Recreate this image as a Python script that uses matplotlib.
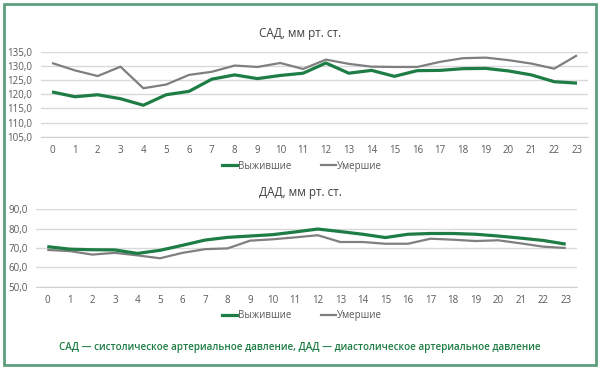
import matplotlib
matplotlib.use('Agg')
import matplotlib.pyplot as plt
from matplotlib.patches import Rectangle
from matplotlib.lines import Line2D

plt.rcParams['font.family'] = ['Open Sans', 'DejaVu Sans']

hours = list(range(24))

# САД (систолическое)
sad_alive = [120.8, 119.1, 119.8, 118.4, 116.1, 119.8, 121.0, 125.3, 126.8, 125.5,
             126.6, 127.4, 131.0, 127.4, 128.4, 126.3, 128.3, 128.4, 129.0, 129.1,
             128.2, 126.8, 124.4, 123.9]
sad_dead = [131.0, 128.4, 126.4, 129.7, 122.1, 123.4, 126.8, 127.9, 130.1, 129.6,
            131.0, 128.9, 132.2, 130.7, 129.7, 129.6, 129.6, 131.4, 132.7, 132.9,
            132.0, 130.8, 129.0, 133.7]

# ДАД (диастолическое)
dad_alive = [70.7, 69.4, 69.1, 69.0, 67.2, 68.8, 71.4, 74.1, 75.5, 76.2,
             76.9, 78.3, 79.8, 78.5, 77.1, 75.4, 77.1, 77.5, 77.5, 77.1,
             76.2, 75.1, 73.9, 72.0]
dad_dead = [69.0, 68.4, 66.6, 67.5, 66.2, 64.7, 67.5, 69.4, 69.8, 73.8,
            74.5, 75.5, 76.6, 73.1, 73.1, 72.2, 72.2, 74.8, 74.3, 73.6,
            74.0, 72.4, 70.7, 70.0]

GREEN = '#1e7d45'
GRAY = '#7f7f7f'
TXT = '#595959'

fig = plt.figure(figsize=(6, 3.69), dpi=100)

# рамка вокруг рисунка
fig.patches.append(Rectangle((0.006, 0.012), 0.988, 0.976, transform=fig.transFigure,
                             fill=False, edgecolor='#5e9e7c', linewidth=2))


def draw_panel(rect, alive, dead, ylim, step, title, title_y, legend_y):
    ax = fig.add_axes(rect)
    ax.plot(hours, dead, color=GRAY, linewidth=1.6, solid_capstyle='butt', zorder=3)
    ax.plot(hours, alive, color=GREEN, linewidth=2.3, solid_capstyle='butt', zorder=4)
    ax.set_xlim(-0.5, 23.5)
    ax.set_ylim(*ylim)
    yt = list(range(ylim[0], ylim[1] + 1, step))
    ax.set_yticks(yt)
    ax.set_yticklabels([f'{v},0' for v in yt])
    ax.set_xticks(hours)
    ax.grid(axis='y', color='#d9d9d9', linewidth=1)
    ax.set_axisbelow(True)
    for s in ['top', 'right', 'left']:
        ax.spines[s].set_visible(False)
    ax.spines['bottom'].set_color('#d0d0d0')
    ax.tick_params(length=0, labelsize=7, colors=TXT, pad=6)
    fig.text(0.5, title_y, title, ha='center', va='center', fontsize=8.5, color='#404040')
    handles = [Line2D([], [], color=GREEN, linewidth=2.3),
               Line2D([], [], color=GRAY, linewidth=1.6)]
    fig.legend(handles, ['Выжившие', 'Умершие'], loc='center', bbox_to_anchor=(0.503, legend_y),
               ncol=2, frameon=False, fontsize=7, handlelength=1.6, handletextpad=0.1,
               columnspacing=3.0, labelcolor=TXT)
    return ax


draw_panel([0.0677, 0.6295, 0.913, 0.2305], sad_alive, sad_dead, (105, 135), 5,
           'САД, мм рт. ст.', 0.91, 0.55)
draw_panel([0.060, 0.2230, 0.9017, 0.2098], dad_alive, dad_dead, (50, 90), 10,
           'ДАД, мм рт. ст.', 0.477, 0.145)

fig.text(0.499, 0.057, 'САД — систолическое артериальное давление, ДАД — диастолическое артериальное давление',
         ha='center', va='center', fontsize=7.1, color=GREEN, fontweight='semibold')

fig.savefig('out.png', dpi=100)
